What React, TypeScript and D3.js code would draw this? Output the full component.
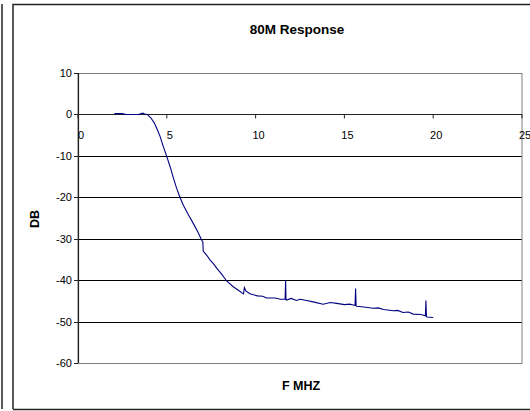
import React from 'react';
import * as d3 from 'd3';

const W = 530;
const H = 411;

const title = '80M Response';
const xLabel = 'F MHZ';
const yLabel = 'DB';

const xTicks = [0, 5, 10, 15, 20, 25];
const yTicks = [10, 0, -10, -20, -30, -40, -50, -60];

// frequency (MHz) and response (dB)
const freqMHz = [
  2.05, 2.5, 2.7, 3.0, 3.4, 3.65, 3.75, 3.9, 4.1, 4.3, 4.45, 4.62, 4.8, 5.0, 5.2,
  5.37, 5.55, 5.74, 5.93, 6.2, 6.49, 6.75, 6.96, 7.03, 7.05, 7.25, 7.43, 7.62, 7.81,
  8.1, 8.37, 8.74, 9.05, 9.27, 9.32, 9.37, 9.45, 9.68, 10.1, 10.4, 10.62, 11.1, 11.4, 11.66,
  11.69, 11.71, 11.74, 12.0, 12.3, 12.5, 12.88, 13.3, 13.8, 14.2, 14.57, 15.0, 15.3, 15.6,
  15.63, 15.66, 15.69, 16.1, 16.63, 16.9, 17.2, 17.75, 18.0, 18.3, 18.6, 18.88, 19.3, 19.56, 19.59,
  19.62, 19.66, 20.0,
];
const responseDb = [
  0.2, 0.2, 0.0, 0.0, 0.0, 0.3, 0.1, 0.0, -0.8, -2.1, -3.5, -5.3, -7.7, -10.2, -12.8,
  -15.3, -17.8, -20.0, -21.9, -24.1, -26.3, -28.4, -30.3, -30.8, -33.0, -34.0, -35.1,
  -36.0, -37.1, -38.6, -40.2, -41.6, -42.5, -43.2, -43.3, -41.8, -42.6, -43.3, -43.8,
  -43.9, -44.3, -44.3, -44.6, -44.6, -40.1, -44.7, -44.8, -44.4, -44.9, -44.6, -44.9, -45.3, -45.8,
  -45.4, -45.6, -45.9, -45.8, -46.1, -42.0, -46.2, -46.3, -46.5, -46.8, -46.7, -47.1, -47.4, -47.3,
  -47.8, -47.7, -48.2, -48.3, -48.6, -44.9, -48.8, -48.9, -49.0,
];

const font = "'Liberation Sans', Arial, sans-serif";

export default function App() {
  const x = d3.scaleLinear().domain([0, 25]).range([78, 522]);
  const y = d3.scaleLinear().domain([-60, 10]).range([363, 73]);

  const pts: [number, number][] = freqMHz.map((f, i) => [f, responseDb[i]]);
  const line = d3.line<[number, number]>().x(d => x(d[0])).y(d => y(d[1]));

  return (
    <svg width={W} height={H} style={{ position: 'absolute', left: 0, top: 0, background: '#fff' }}>
      {/* neighbouring frame edge and chart frame */}
      <line x1={2} y1={4} x2={2} y2={409} stroke="#222" strokeWidth={1.5} />
      <path d={`M13,409 L13,4.5 L${W},4.5`} fill="none" stroke="#222" strokeWidth={1.5} />
      <line x1={13} y1={409.5} x2={W} y2={409.5} stroke="#222" strokeWidth={1.5} />

      <text x={297} y={34} textAnchor="middle" fontFamily={font} fontWeight="bold" fontSize={13.5}>{title}</text>

      {/* gridlines */}
      {yTicks.filter(t => t !== 10 && t !== -60).map(t => (
        <line key={`g${t}`} x1={x(0)} x2={x(25)} y1={Math.round(y(t)) + 0.5} y2={Math.round(y(t)) + 0.5} stroke="#000" strokeWidth={1} />
      ))}
      {/* plot border */}
      <rect x={x(0)} y={Math.round(y(10)) + 0.5} width={x(25) - x(0)} height={Math.round(y(-60)) - Math.round(y(10))} fill="none" stroke="#808080" strokeWidth={1} />

      {/* y axis */}
      <line x1={x(0) + 0.5} x2={x(0) + 0.5} y1={y(10)} y2={y(-60)} stroke="#222" strokeWidth={1.2} />
      {yTicks.map(t => (
        <g key={`y${t}`}>
          <line x1={x(0) - 4} x2={x(0)} y1={Math.round(y(t)) + 0.5} y2={Math.round(y(t)) + 0.5} stroke="#222" />
          <text x={x(0) - 6} y={y(t) + 4} textAnchor="end" fontFamily={font} fontSize={11}>{t}</text>
        </g>
      ))}

      {/* x axis at 0 dB */}
      <line x1={x(0)} x2={x(25)} y1={Math.round(y(0)) + 0.5} y2={Math.round(y(0)) + 0.5} stroke="#222" strokeWidth={1.2} />
      {xTicks.map(t => (
        <g key={`x${t}`}>
          <line x1={x(t)} x2={x(t)} y1={y(0)} y2={y(0) + 4} stroke="#222" />
          <text x={x(t) + 3} y={y(0) + 25} textAnchor="middle" fontFamily={font} fontSize={11}>{t}</text>
        </g>
      ))}

      <text x={301} y={390} textAnchor="middle" fontFamily={font} fontWeight="bold" fontSize={12.5}>{xLabel}</text>
      <text transform={`translate(39,219) rotate(-90)`} textAnchor="middle" fontFamily={font} fontWeight="bold" fontSize={12.5}>{yLabel}</text>

      <path d={line(pts) || ''} fill="none" stroke="#000080" strokeWidth={1.1} />
    </svg>
  );
}
